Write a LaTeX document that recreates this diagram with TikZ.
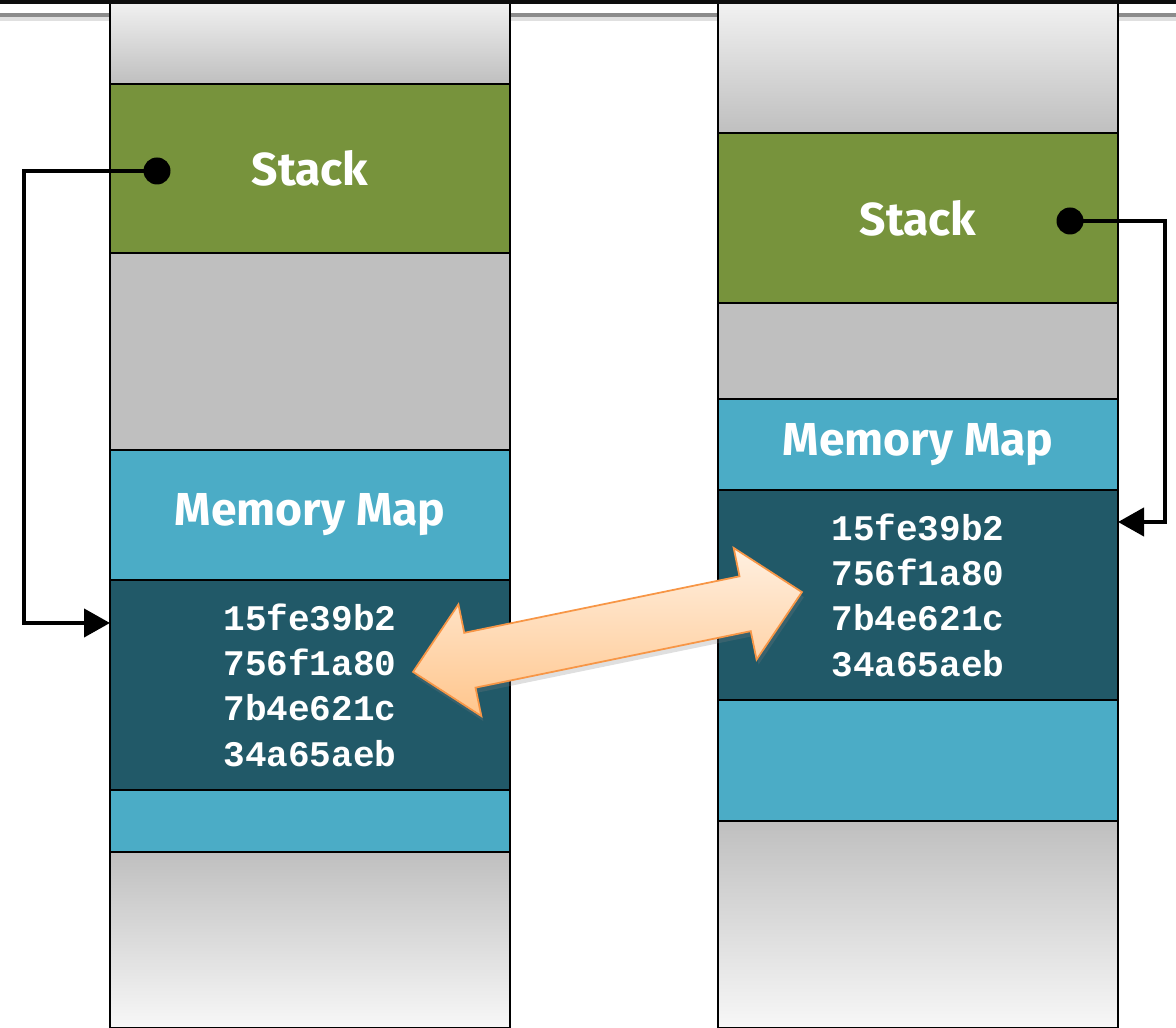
\documentclass[tikz,border=0pt]{standalone}
\usepackage{fontspec}
\usepackage{tikz}
\usetikzlibrary{calc, positioning, arrows.meta, shadows}
\newfontfamily\labelfont{Fira Sans}
\newfontfamily\hexfont{Liberation Mono}

\definecolor{stackgreen}{HTML}{77933C}
\definecolor{mapblue}{HTML}{4BACC6}
\definecolor{datateal}{HTML}{215968}
\definecolor{freegray}{HTML}{BFBFBF}
\definecolor{arrowline}{HTML}{F79646}

\begin{document}
\begin{tikzpicture}[node distance=0pt,
    seg/.style={draw, line width=1.2pt, minimum width=8cm, inner sep=0pt, outer sep=0pt},
    fadetop/.style={seg, top color=white!95!black, bottom color=freegray},
    fadebot/.style={seg, top color=freegray, bottom color=white!97!black},
    stackseg/.style={seg, fill=stackgreen, text=white, font=\labelfont\bfseries\fontsize{26.3}{30}\selectfont},
    mapseg/.style={seg, fill=mapblue, text=white, font=\labelfont\bfseries\fontsize{26.3}{30}\selectfont},
    dataseg/.style={seg, fill=datateal, text=white, align=center, font=\hexfont\bfseries\fontsize{20.5}{25.8}\selectfont},
    freeseg/.style={seg, fill=freegray},
    pin/.style={circle, fill=black, inner sep=0pt, minimum size=0.54cm},
    link/.style={line width=2.4pt, -{Triangle[length=0.52cm, width=0.56cm]}}]

    \useasboundingbox (0,0) rectangle (23.52,20.56);

    % page rule behind the columns
    \fill[black!12] (0,20.14) rectangle (23.52,20.26);
    \fill[black!45] (0,20.22) rectangle (23.52,20.29);

    % left process
    \node[fadetop, minimum height=1.68cm, anchor=north] (ltop) at (6.2,20.56) {};
    \node[stackseg, minimum height=3.38cm] (lstack) [below=of ltop] {Stack};
    \node[freeseg, minimum height=3.94cm] (lfree) [below=of lstack] {};
    \node[mapseg, minimum height=2.6cm] (lmap) [below=of lfree] {Memory Map};
    \node[dataseg, minimum height=4.2cm] (ldata) [below=of lmap] {15fe39b2\\756f1a80\\7b4e621c\\34a65aeb};
    \node[mapseg, minimum height=1.24cm] (lmap2) [below=of ldata] {};
    \node[fadebot, minimum height=3.52cm] (lbot) [below=of lmap2] {};

    % right process
    \node[fadetop, minimum height=2.66cm, anchor=north] (rtop) at (18.36,20.56) {};
    \node[stackseg, minimum height=3.4cm] (rstack) [below=of rtop] {Stack};
    \node[freeseg, minimum height=1.92cm] (rfree) [below=of rstack] {};
    \node[mapseg, minimum height=1.82cm] (rmap) [below=of rfree] {Memory Map};
    \node[dataseg, minimum height=4.2cm] (rdata) [below=of rmap] {15fe39b2\\756f1a80\\7b4e621c\\34a65aeb};
    \node[mapseg, minimum height=2.42cm] (rmap2) [below=of rdata] {};
    \node[fadebot, minimum height=4.14cm] (rbot) [below=of rmap2] {};

    % pointers
    \node[pin] (ldot) at ($(lstack.west)+(0.94,-0.05)$) {};
    \node[pin] (rdot) at ($(rstack.east)+(-0.96,-0.06)$) {};
    \coordinate (lin) at ($(ldata.north west)+(0,-0.86)$);
    \coordinate (rin) at ($(rdata.north east)+(0,-0.64)$);
    \coordinate (lturn) at (0.48,0 |- ldot);
    \coordinate (rturn) at (23.3,0 |- rdot);

    \draw[link] (ldot.center) -- (lturn) |- (lin);
    \draw[link] (rdot.center) -- (rturn) |- (rin);

    % shared pages
    \begin{scope}[shift={(12.15,7.92)}, rotate=11.6]
      \filldraw[draw=arrowline, line width=1pt, top color=orange!12, bottom color=orange!45!white,
        drop shadow={shadow xshift=0.04, shadow yshift=-0.1, opacity=0.25}]
        (-3.97,0) -- (-2.81,1.14) -- (-2.81,0.56) -- (2.81,0.56) -- (2.81,1.14)
        -- (3.97,0) -- (2.81,-1.14) -- (2.81,-0.56) -- (-2.81,-0.56) -- (-2.81,-1.14) -- cycle;
    \end{scope}

    % top bar
    \fill[black!95] (0,20.47) rectangle (23.52,20.56);
\end{tikzpicture}
\end{document}
